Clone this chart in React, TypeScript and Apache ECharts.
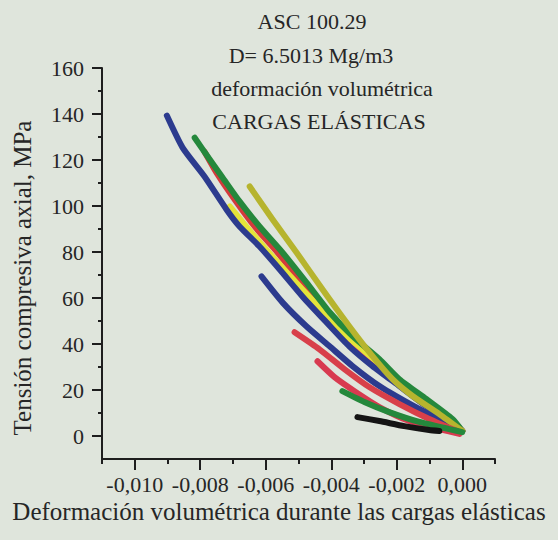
import React, { useEffect, useRef } from 'react';
import * as echarts from 'echarts';

const titleLines = ['ASC 100.29', 'D= 6.5013 Mg/m3', 'deformación volumétrica', 'CARGAS ELÁSTICAS'];
const xAxisName = 'Deformación volumétrica durante las cargas elásticas';
const yAxisName = 'Tensión compresiva axial, MPa';

const xMajorTicks = [-0.01, -0.008, -0.006, -0.004, -0.002, 0];
const xMinorTicks = [-0.011, -0.009, -0.007, -0.005, -0.003, -0.001, 0.001];
const yMajorTicks = [0, 20, 40, 60, 80, 100, 120, 140, 160];
const yMinorTicks = [10, 30, 50, 70, 90, 110, 130, 150];

// [volumetric strain, axial stress MPa]
const redUnder = [[-0.00787, 123.6], [-0.00747, 113.7], [-0.00695, 102.8], [-0.00634, 91.1], [-0.00564, 79.8], [-0.00491, 66.8], [-0.00421, 53.8], [-0.00351, 43.4], [-0.00268, 33.4], [-0.00201, 24.7], [-0.00116, 16.1], [-0.00034, 7.4], [0, 2.2]];
const magenta = [[-0.0064, 86.8], [-0.00573, 75.9], [-0.00497, 63.8], [-0.00421, 52.1], [-0.00345, 41.2], [-0.00259, 30.4], [-0.00177, 21.3], [-0.00091, 11.7], [0, 2.2]];
const yellow = [[-0.0071, 99.8], [-0.00665, 92.0], [-0.00604, 82.0], [-0.00527, 69.8], [-0.00451, 58.1], [-0.00375, 46.4], [-0.00299, 36.9], [-0.00216, 26.9], [-0.00131, 16.9], [-0.00055, 8.2], [0, 2.2]];
const blueShort = [[-0.00613, 69.4], [-0.00549, 58.1], [-0.00476, 47.7], [-0.00405, 39.0], [-0.00335, 30.4], [-0.00253, 21.7], [-0.00171, 14.8], [-0.00091, 8.7], [-0.00009, 3.0]];
const blueLong = [[-0.00902, 139.3], [-0.00854, 125.4], [-0.00787, 112.8], [-0.0072, 98.5], [-0.0068, 91.1], [-0.00619, 82.4], [-0.00558, 72.5], [-0.00488, 60.7], [-0.00415, 49.5], [-0.00345, 39.0], [-0.00274, 30.4], [-0.00192, 21.7], [-0.0011, 13.0], [-0.0003, 6.1], [0, 2.2]];
const greenLong = [[-0.00817, 129.7], [-0.00771, 120.2], [-0.00732, 112.4], [-0.0068, 102.0], [-0.00619, 91.1], [-0.00549, 79.8], [-0.00476, 66.8], [-0.00405, 53.8], [-0.00335, 43.4], [-0.00253, 33.4], [-0.00192, 24.7], [-0.0011, 16.1], [-0.0003, 7.4], [0, 2.2]];
const olive = [[-0.00649, 108.5], [-0.00579, 94.1], [-0.00506, 79.8], [-0.00427, 63.8], [-0.00345, 47.7], [-0.00274, 34.7], [-0.00213, 24.7], [-0.00152, 17.4], [-0.0007, 9.5], [0, 2.2]];
const redLower = [[-0.00512, 45.1], [-0.00436, 37.7], [-0.0036, 29.1], [-0.00284, 21.3], [-0.00192, 13.9], [-0.00101, 7.4], [-0.00009, 1.7]];
const redLower2 = [[-0.00442, 32.5], [-0.0039, 25.6], [-0.00329, 19.5], [-0.00253, 12.6], [-0.00162, 6.5], [-0.0007, 3.0], [-0.00009, 0.9]];
const greenLower = [[-0.00366, 19.5], [-0.00299, 14.8], [-0.00223, 10.4], [-0.00131, 6.1], [-0.0004, 3.0], [0, 1.7]];
const black = [[-0.0032, 8.2], [-0.00253, 6.5], [-0.00177, 4.3], [-0.00101, 2.6], [-0.0007, 2.2]];

const FONT = 'Liberation Serif';
const TXT = '#262626';
const AX = '#1e1e1e';

const curves: { data: number[][]; color: string }[] = [
  { data: redUnder, color: '#d43a3c' },
  { data: magenta, color: '#d8366c' },
  { data: yellow, color: '#e4e43a' },
  { data: blueShort, color: '#2c3b8e' },
  { data: blueLong, color: '#2c3b8e' },
  { data: greenLong, color: '#25883c' },
  { data: olive, color: '#b6b42e' },
  { data: redLower, color: '#d8404a' },
  { data: redLower2, color: '#d83a50' },
  { data: greenLower, color: '#25883c' },
  { data: black, color: '#141414' },
];

export default function App() {
  const ref = useRef<HTMLDivElement>(null);
  useEffect(() => {
    if (!ref.current) return;
    const chart = echarts.init(ref.current, undefined, { renderer: 'svg' });
    const fmtX = (v: number) => {
      const s = Math.abs(v) < 1e-9 ? '0.000' : v.toFixed(3);
      return s.replace('.', ',');
    };
    const titleX = [312, 311, 322, 319];
    const titleY = [21, 55, 88, 121];
    const txt = (text: string, x: number, y: number, size: number, rotation = 0) => ({
      type: 'text', x, y, rotation, silent: true,
      style: {
        text, fontSize: size, fontFamily: FONT, fill: TXT,
        textAlign: 'center', textVerticalAlign: 'middle', align: 'center', verticalAlign: 'middle',
      },
    });
    chart.setOption({
      animation: false,
      backgroundColor: '#dfe5dc',
      textStyle: { fontFamily: FONT },
      grid: { left: 102, right: 63, top: 68, bottom: 81, containLabel: false },
      xAxis: [
        {
          type: 'value', min: -0.011, max: 0.001, interval: 0.001,
          axisLine: { show: true, onZero: false, lineStyle: { color: AX, width: 2 } },
          axisTick: { show: true, length: 5, customValues: xMinorTicks, lineStyle: { color: AX, width: 2 } },
          axisLabel: { show: true, customValues: xMajorTicks, formatter: fmtX, margin: 14, fontSize: 22, fontFamily: FONT, color: TXT },
          splitLine: { show: false },
        },
        {
          type: 'value', min: -0.011, max: 0.001, interval: 0.001, position: 'bottom',
          axisLine: { show: false, onZero: false },
          axisTick: { show: true, length: 11, customValues: xMajorTicks, lineStyle: { color: AX, width: 2 } },
          axisLabel: { show: false },
          splitLine: { show: false },
        },
      ],
      yAxis: [
        {
          type: 'value', min: -10, max: 160, interval: 10,
          axisLine: { show: true, onZero: false, lineStyle: { color: AX, width: 2 } },
          axisTick: { show: true, length: 4, customValues: yMinorTicks, lineStyle: { color: AX, width: 2 } },
          axisLabel: { show: true, customValues: yMajorTicks, margin: 18, fontSize: 22, fontFamily: FONT, color: TXT },
          splitLine: { show: false },
        },
        {
          type: 'value', min: -10, max: 160, interval: 10, position: 'left',
          axisLine: { show: false, onZero: false },
          axisTick: { show: true, length: 10, customValues: yMajorTicks, lineStyle: { color: AX, width: 2 } },
          axisLabel: { show: false },
          splitLine: { show: false },
        },
      ],
      graphic: [
        ...titleLines.map((t, i) => txt(t, titleX[i], titleY[i], 22)),
        txt(xAxisName, 279, 511, 25),
        txt(yAxisName, 22, 278, 25, Math.PI / 2),
      ],
      series: curves.map((c) => ({
        type: 'line', xAxisIndex: 0, yAxisIndex: 0, data: c.data, showSymbol: false, smooth: 0.2,
        lineStyle: { color: c.color, width: 6, cap: 'round', join: 'round' }, itemStyle: { color: c.color },
      })),
    });
    return () => chart.dispose();
  }, []);
  return <div ref={ref} style={{ position: 'absolute', left: 0, top: 0, width: 558, height: 540 }} />;
}
